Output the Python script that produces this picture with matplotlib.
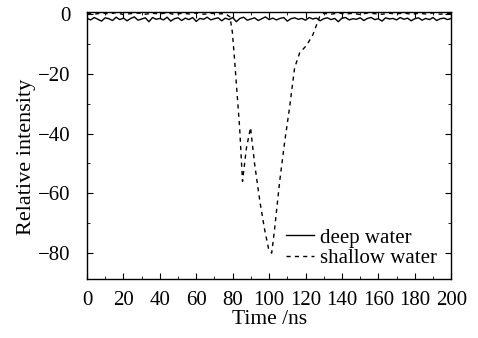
import numpy as np
import matplotlib.pyplot as plt
from matplotlib.ticker import MultipleLocator

plt.rcParams['font.family'] = ['Liberation Serif', 'DejaVu Serif']
plt.rcParams['axes.unicode_minus'] = True

deep_t = np.arange(0, 201, 2)
deep_y = [-1.5, -2.0, -1.2, -1.8, -2.4, -1.3, -1.6, -2.2, -1.1, -1.9,
          -1.4, -2.3, -1.5, -1.0, -2.1, -1.7, -1.3, -2.6, -1.2, -1.8,
          -1.5, -2.0, -1.1, -2.4, -1.6, -1.3, -2.2, -1.4, -1.9, -1.2,
          -2.5, -1.5, -1.8, -1.1, -2.0, -1.6, -1.3, -2.3, -1.4, -1.9,
          -1.2, -2.6, -1.5, -1.1, -2.1, -1.7, -1.3, -2.2, -1.6, -1.0,
          -1.9, -1.4, -2.0, -1.5, -1.2, -2.4, -1.6, -1.3, -1.8, -1.5,
          -2.1, -1.2, -1.7, -1.4, -2.3, -1.6, -1.3, -1.9, -1.5, -2.6,
          -1.4, -1.2, -2.0, -1.6, -1.8, -1.3, -2.2, -1.5, -1.2, -1.9,
          -1.6, -2.4, -1.3, -1.7, -1.5, -2.0, -1.2, -1.8, -1.4, -2.3,
          -1.6, -1.3, -2.1, -1.5, -1.9, -1.2, -2.2, -1.6, -1.4, -1.9,
          -1.5]

# shallow water: flat near 0, then the double dip
shallow_t = [0, 4, 8, 12, 16, 20, 24, 28, 32, 36, 40, 44, 48, 52, 56, 60,
             64, 68, 72, 76, 78.5, 79.8, 81, 83.8, 85.4, 87.5, 89.8, 92,
             95, 97.5, 99.7, 101.4, 103, 105.8, 108.5, 111.3, 114, 116.8,
             120.6, 124, 127.7, 130, 134, 138, 142, 146, 150, 154, 158,
             162, 166, 170, 174, 178, 182, 186, 190, 194, 198, 200]
shallow_y = [0.2, -0.1, 0.3, 0.0, 0.4, -0.2, 0.1, 0.3, -0.1, 0.2, 0.0,
             0.4, -0.2, 0.2, 0.0, 0.3, -0.1, 0.2, 0.0, 0.1, -1.0, -6.0,
             -15, -38, -56, -45, -38, -50, -63, -72, -78.5, -80, -72,
             -56, -43, -31, -18, -13, -10.5, -7, -1.0, 0.2, -0.1, 0.3,
             0.0, 0.2, -0.2, 0.3, 0.1, -0.1, 0.2, 0.0, 0.3, -0.1, 0.2,
             0.0, 0.3, -0.1, 0.2, 0.0]

fig = plt.figure(figsize=(4.78, 3.38), dpi=100)
ax = fig.add_axes([0.182, 0.175, 0.762, 0.79])

ax.plot(deep_t, deep_y, color='black', lw=1.0, label='deep water')
ax.plot(shallow_t, shallow_y, color='black', lw=1.0, dashes=(3, 3),
        label='shallow water')

ax.set_xlim(0, 200)
ax.set_ylim(-88.6, 0.7)
ax.xaxis.set_major_locator(MultipleLocator(20))
ax.xaxis.set_minor_locator(MultipleLocator(10))
ax.yaxis.set_major_locator(MultipleLocator(20))
ax.yaxis.set_minor_locator(MultipleLocator(10))
ax.tick_params(which='both', direction='in', top=True, right=True,
               labelsize=15)
ax.tick_params(axis='x', which='major', pad=9)
ax.tick_params(axis='y', which='major', pad=12)
ax.tick_params(which='major', length=4)
ax.tick_params(which='minor', length=2)
for s in ax.spines.values():
    s.set_linewidth(1.0)

ax.set_xlabel('Time /ns', fontsize=15.5, labelpad=0)
ax.set_ylabel('Relative intensity', fontsize=16)
ax.yaxis.set_label_coords(-0.14, 0.455)

ax.legend(loc='lower right', frameon=False, fontsize=15, handlelength=1.35,
          handletextpad=0.25, labelspacing=0.05, borderaxespad=0.0,
          borderpad=0.0, bbox_to_anchor=(0.96, 0.04))

fig.savefig('out.png', dpi=100)
